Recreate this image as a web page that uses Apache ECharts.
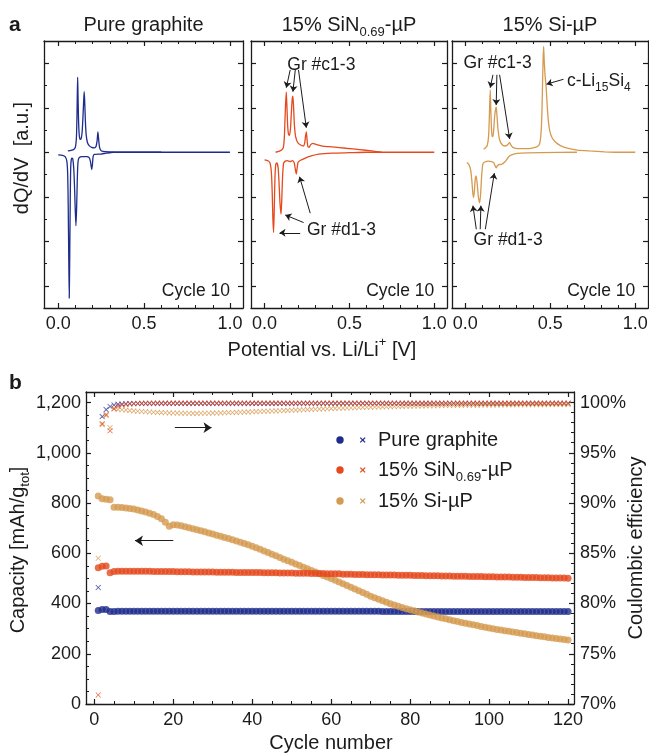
<!DOCTYPE html>
<html>
<head>
<meta charset="utf-8">
<script src="https://cdn.jsdelivr.net/npm/echarts@6/dist/echarts.min.js"></script>
<style>
  html, body { margin: 0; padding: 0; background: #ffffff; }
  #chart { width: 649px; height: 755px; }
</style>
</head>
<body>
<div id="chart"></div>
<script>
// ---------- panel a: differential capacity, cycle 10 (V vs Li/Li+, dQ/dV in a.u.) ----------
const graphiteCharge = [
  [0.056,0.03],[0.075,0.04],[0.090,0.06],[0.100,0.12],[0.106,0.35],[0.109,0.8],[0.111,1.3],[0.113,1.69],
  [0.115,1.3],[0.118,0.75],[0.122,0.4],[0.127,0.29],[0.133,0.3],[0.139,0.45],[0.144,0.8],[0.148,1.15],
  [0.151,1.36],[0.154,1.15],[0.158,0.7],[0.163,0.38],[0.170,0.22],[0.180,0.15],[0.195,0.11],[0.210,0.1],
  [0.220,0.13],[0.226,0.25],[0.231,0.46],[0.235,0.3],[0.240,0.12],[0.247,0.05],[0.260,0.02],[0.300,0.01],
  [0.400,0.0],[1.000,0.0]
];
const graphiteDischarge = [
  [0.000,-0.06],[0.025,-0.07],[0.040,-0.1],[0.050,-0.2],[0.055,-0.5],[0.058,-1.2],[0.061,-2.3],[0.064,-3.28],
  [0.067,-2.3],[0.070,-1.0],[0.073,-0.3],[0.078,-0.13],[0.084,-0.14],[0.090,-0.35],[0.095,-0.8],[0.099,-1.3],
  [0.103,-1.65],[0.107,-1.25],[0.111,-0.6],[0.115,-0.22],[0.122,-0.12],[0.140,-0.1],[0.165,-0.1],[0.180,-0.12],
  [0.187,-0.2],[0.191,-0.3],[0.195,-0.39],[0.199,-0.28],[0.203,-0.1],[0.210,-0.05],[0.250,-0.04],[0.280,-0.02],
  [0.320,0.0],[0.600,0.0]
];
const sinCharge = [
  [0.065,0.0],[0.085,0.02],[0.100,0.05],[0.110,0.1],[0.116,0.3],[0.120,0.7],[0.124,1.1],[0.128,1.35],
  [0.132,1.0],[0.136,0.6],[0.141,0.4],[0.147,0.38],[0.153,0.55],[0.158,0.9],[0.163,1.2],[0.167,1.26],
  [0.171,1.0],[0.176,0.6],[0.183,0.35],[0.195,0.22],[0.210,0.17],[0.228,0.14],[0.236,0.2],[0.241,0.35],
  [0.246,0.46],[0.250,0.3],[0.255,0.13],[0.262,0.11],[0.272,0.17],[0.283,0.2],[0.300,0.18],[0.340,0.14],
  [0.400,0.12],[0.480,0.09],[0.560,0.06],[0.630,0.03],[0.690,0.0]
];
const sinDischarge = [
  [0.000,-0.17],[0.020,-0.19],[0.032,-0.24],[0.040,-0.45],[0.045,-0.9],[0.049,-1.5],[0.053,-1.8],[0.057,-1.3],
  [0.061,-0.6],[0.066,-0.27],[0.072,-0.24],[0.080,-0.35],[0.086,-0.75],[0.091,-1.15],[0.097,-1.39],[0.101,-1.1],
  [0.106,-0.55],[0.112,-0.25],[0.122,-0.2],[0.135,-0.19],[0.150,-0.21],[0.165,-0.19],[0.175,-0.24],[0.181,-0.38],
  [0.187,-0.49],[0.192,-0.35],[0.198,-0.22],[0.212,-0.18],[0.240,-0.13],[0.275,-0.08],[0.320,-0.04],[0.400,-0.02],
  [0.500,-0.01],[0.600,0.0],[1.000,0.0]
];
const siCharge = [
  [0.108,0.07],[0.120,0.1],[0.130,0.16],[0.137,0.35],[0.141,0.7],[0.144,1.1],[0.147,1.4],[0.150,1.0],
  [0.154,0.55],[0.158,0.36],[0.163,0.35],[0.168,0.55],[0.174,0.85],[0.182,1.02],[0.187,0.8],[0.193,0.5],
  [0.202,0.28],[0.215,0.18],[0.232,0.14],[0.247,0.16],[0.256,0.2],[0.261,0.22],[0.267,0.17],[0.280,0.11],
  [0.310,0.08],[0.360,0.08],[0.400,0.1],[0.425,0.13],[0.438,0.2],[0.446,0.45],[0.451,0.9],[0.455,1.6],
  [0.458,2.1],[0.461,2.38],[0.464,2.1],[0.469,1.75],[0.476,1.45],[0.482,1.05],[0.489,0.7],[0.497,0.48],
  [0.510,0.33],[0.530,0.23],[0.560,0.15],[0.600,0.09],[0.660,0.05],[0.730,0.03],[0.820,0.01],[0.900,0.0],
  [1.000,0.0]
];
const siDischarge = [
  [0.010,-0.23],[0.022,-0.28],[0.032,-0.4],[0.039,-0.65],[0.044,-0.9],[0.049,-1.02],[0.054,-0.85],[0.059,-0.6],
  [0.064,-0.53],[0.070,-0.7],[0.077,-1.0],[0.085,-1.14],[0.091,-0.9],[0.097,-0.5],[0.104,-0.26],[0.115,-0.22],
  [0.135,-0.2],[0.155,-0.21],[0.168,-0.24],[0.176,-0.31],[0.182,-0.35],[0.188,-0.31],[0.198,-0.28],[0.215,-0.27],
  [0.232,-0.22],[0.248,-0.14],[0.262,-0.08],[0.285,-0.04],[0.330,-0.02],[0.450,-0.01],[0.657,0.0]
];

// peak labels: arrows as [fromV, fromY, toV, toY]
const sinArrows = [
  [0.151,1.85,0.128,1.45],[0.181,1.85,0.167,1.36],[0.200,1.85,0.246,0.55],
  [0.210,-1.81,0.088,-1.81],[0.230,-1.58,0.122,-1.41],[0.269,-1.37,0.206,-0.55]
];
const siArrows = [
  [0.163,1.74,0.147,1.45],[0.186,1.74,0.182,1.06],[0.202,1.74,0.261,0.30],
  [0.578,1.64,0.478,1.53],
  [0.065,-1.73,0.045,-1.20],[0.088,-1.73,0.092,-1.20],[0.118,-1.73,0.171,-0.47]
];
// note texts: [V, y, text]
const sinNotes = [[0.134,1.96,'Gr #c1-3'],[0.250,-1.74,'Gr #d1-3']];
const siNotes = [[-0.010,2.0,'Gr #c1-3'],[0.598,1.59,'c-Li{s|15}Si{s|4}'],[0.049,-1.97,'Gr #d1-3']];
const panelTitles = ['Pure graphite', '15% SiN{s|0.69}-\u00b5P', '15% Si-\u00b5P'];
const cycleNote = 'Cycle 10';

const xTicksA = [0, 0.5, 1];
const xMinorA = [0.1, 0.2, 0.3, 0.4, 0.6, 0.7, 0.8, 0.9];
const yTicksA = [-3, -2, -1, 0, 1, 2];
const yMinorA = [-2.5, -1.5, -0.5, 0.5, 1.5];

// ---------- panel b: capacity (circles) and Coulombic efficiency (crosses) per cycle ----------
const sampleNames = ['Pure graphite', '15% SiN{s|0.69}-\u00b5P', '15% Si-\u00b5P'];

const graphiteCapacity = [
  372,376,376,368,368,369,369,369,369,369,
  369,369,369,369,369,369,369,369,369,369,
  369,369,369,369,369,369,369,369,369,369,
  369,369,369,369,369,369,369,369,369,369,
  369,369,369,369,369,369,369,369,369,369,
  369,369,369,369,369,369,369,369,369,369,
  369,369,369,369,369,369,369,369,369,369,
  369,369,368,368,368,368,368,368,368,368,
  368,368,368,368,368,368,368,368,368,368,
  368,368,368,368,368,368,368,368,368,368,
  368,368,368,368,368,368,368,368,368,368,
  368,368,368,368,368,368,368,368,368,368
];
const sinCapacity = [
  542,548,549,522,527,528,528,528,528,528,
  528,528,528,528,527,527,527,527,527,527,
  526,526,526,526,525,525,525,525,525,525,
  524,524,524,524,524,523,523,523,523,523,
  523,523,522,522,522,522,521,521,521,521,
  520,520,520,520,519,519,519,519,518,518,
  518,518,517,517,517,516,516,516,515,515,
  515,515,514,514,514,514,513,513,513,513,
  512,512,512,511,511,511,511,510,510,510,
  509,509,509,509,508,508,508,508,507,507,
  507,506,506,506,506,505,505,505,504,504,
  504,504,503,503,503,502,502,502,502,501
];
const siCapacity = [
  828,817,815,813,783,783,782,780,778,776,
  772,768,764,759,754,746,737,724,708,714,
  713,710,706,702,698,694,690,686,681,677,
  672,668,663,659,654,649,644,639,634,628,
  622,616,609,603,596,590,583,576,570,564,
  557,551,544,538,531,525,518,512,506,500,
  493,486,479,472,465,458,451,444,437,429,
  423,417,411,405,399,394,389,384,379,375,
  371,366,362,358,354,350,346,342,339,335,
  331,328,324,321,318,315,312,309,306,303,
  300,297,295,292,290,287,285,282,280,277,
  275,272,270,268,265,263,261,259,257,255
];
const graphiteCE = [
  81.6,98.6,99.3,99.6,99.75,99.82,99.86,99.88,99.9,99.9,
  99.9,99.91,99.9,99.91,99.9,99.91,99.9,99.91,99.9,99.91,
  99.9,99.91,99.9,99.91,99.9,99.91,99.9,99.91,99.9,99.91,
  99.9,99.91,99.9,99.91,99.9,99.91,99.9,99.91,99.9,99.91,
  99.9,99.91,99.9,99.91,99.9,99.91,99.9,99.91,99.9,99.91,
  99.9,99.91,99.9,99.91,99.9,99.91,99.9,99.91,99.9,99.91,
  99.9,99.91,99.9,99.91,99.9,99.91,99.9,99.91,99.9,99.91,
  99.9,99.91,99.9,99.91,99.9,99.91,99.9,99.91,99.9,99.91,
  99.9,99.91,99.9,99.91,99.9,99.91,99.9,99.91,99.9,99.91,
  99.9,99.91,99.9,99.91,99.9,99.91,99.9,99.91,99.9,99.91,
  99.9,99.91,99.9,99.91,99.9,99.91,99.9,99.91,99.9,99.91,
  99.9,99.91,99.9,99.91,99.9,99.91,99.9,99.91,99.9,99.91
];
const sinCE = [
  70.9,97.9,98.8,97.2,99.4,99.62,99.75,99.82,99.86,99.88,
  99.9,99.92,99.93,99.94,99.94,99.95,99.94,99.95,99.94,99.95,
  99.94,99.95,99.94,99.95,99.94,99.95,99.94,99.95,99.94,99.95,
  99.94,99.95,99.94,99.95,99.94,99.95,99.94,99.95,99.94,99.95,
  99.94,99.95,99.94,99.95,99.94,99.95,99.94,99.95,99.94,99.95,
  99.94,99.95,99.94,99.95,99.94,99.95,99.94,99.95,99.94,99.95,
  99.94,99.95,99.94,99.95,99.94,99.95,99.94,99.95,99.94,99.95,
  99.94,99.95,99.94,99.95,99.94,99.95,99.94,99.95,99.94,99.95,
  99.94,99.95,99.94,99.95,99.94,99.95,99.94,99.95,99.94,99.95,
  99.94,99.95,99.94,99.95,99.94,99.95,99.94,99.95,99.94,99.95,
  99.94,99.95,99.94,99.95,99.94,99.95,99.94,99.95,99.94,99.95,
  99.94,99.95,99.94,99.95,99.94,99.95,99.94,99.95,99.94,99.95
];
const siCE = [
  84.5,97.8,98.7,97.5,99.35,99.3,99.28,99.25,99.2,99.17,
  99.14,99.11,99.08,99.06,99.04,99.02,99.0,98.98,98.97,98.96,
  98.95,98.94,98.93,98.93,98.92,98.92,98.93,98.93,98.94,98.95,
  98.96,98.97,98.98,99.0,99.01,99.02,99.04,99.05,99.07,99.08,
  99.1,99.11,99.13,99.14,99.16,99.17,99.19,99.2,99.22,99.23,
  99.25,99.27,99.28,99.3,99.32,99.33,99.35,99.37,99.38,99.4,
  99.42,99.43,99.45,99.46,99.48,99.49,99.5,99.52,99.53,99.54,
  99.55,99.56,99.57,99.58,99.59,99.6,99.61,99.62,99.63,99.64,
  99.65,99.66,99.66,99.67,99.68,99.68,99.69,99.7,99.7,99.71,
  99.71,99.72,99.72,99.73,99.73,99.74,99.74,99.75,99.75,99.75,
  99.76,99.76,99.76,99.77,99.77,99.77,99.78,99.78,99.78,99.78,
  99.79,99.79,99.79,99.79,99.8,99.8,99.8,99.8,99.8,99.8
];
// direction arrows [fromCycle, fromCap, toCycle, toCap]
const axisArrows = [[20.4,1100,29.7,1100],[20.0,650,10.3,650]];

const xTicksB = [0, 20, 40, 60, 80, 100, 120];
const xMinorB = [5,10,15,25,30,35,45,50,55,65,70,75,85,90,95,105,110,115];
const capTicks = [0, 200, 400, 600, 800, 1000, 1200];
const capMinor = [50,100,150,250,300,350,450,500,550,650,700,750,850,900,950,1050,1100,1150];
const ceTicks = [70, 75, 80, 85, 90, 95, 100];
const ceMinor = [71,72,73,74,76,77,78,79,81,82,83,84,86,87,88,89,91,92,93,94,96,97,98,99,101];

// ---------- layout and style ----------
const FONT = '"Liberation Sans", Arial, Helvetica, sans-serif';
const INK = '#1b1b1b';
const COLORS = ['#1e2c8c', '#e5491d', '#d59a4f'];

const gridsA = [
  { left: 44, top: 41, width: 199, height: 267 },
  { left: 251, top: 41, width: 196, height: 267 },
  { left: 452, top: 41, width: 196, height: 267 }
];
const xRangesA = [[-0.083, 1.076], [-0.08, 1.075], [-0.078, 1.075]];
const yRangeA = [-3.5, 2.5];
const gridB = { left: 86, top: 392, width: 488, height: 312 };
const xRangeB = [-2.1, 121.5];
const capRange = [0, 1242];
const ceRange = [70, 101.05];

const TICK_FONT = 18;

function axisPair(gridIndex, range, major, minor, position, label) {
  const common = {
    type: 'value', gridIndex: gridIndex, min: range[0], max: range[1], position: position,
    splitLine: { show: false }, silent: true
  };
  const main = Object.assign({}, common, {
    axisLine: { show: true, onZero: false, lineStyle: { color: INK, width: 1.3 } },
    axisTick: { show: true, inside: true, length: 5, customValues: major, lineStyle: { color: INK, width: 1.2 } },
    axisLabel: label
      ? Object.assign({ show: true, customValues: major, color: INK, fontFamily: FONT, fontSize: TICK_FONT }, label)
      : { show: false }
  });
  const sub = Object.assign({}, common, {
    axisLine: { show: false, onZero: false },
    axisTick: { show: true, inside: true, length: 3, customValues: minor, lineStyle: { color: INK, width: 1 } },
    axisLabel: { show: false }
  });
  return [main, sub];
}

const grids = [];
const xAxes = [];
const yAxes = [];
const series = [];

const dqdvPanels = [
  { charge: graphiteCharge, discharge: graphiteDischarge, arrows: [], notes: [] },
  { charge: sinCharge, discharge: sinDischarge, arrows: sinArrows, notes: sinNotes },
  { charge: siCharge, discharge: siDischarge, arrows: siArrows, notes: siNotes }
];

function arrowLines(list, size) {
  return {
    silent: true, animation: false,
    symbol: ['none', 'arrow'], symbolSize: size,
    label: { show: false },
    emphasis: { disabled: true },
    itemStyle: { color: INK },
    lineStyle: { color: INK, width: 1, type: 'solid', opacity: 1 },
    data: list.map(a => [{ coord: [a[0], a[1]] }, { coord: [a[2], a[3]] }])
  };
}

dqdvPanels.forEach((p, i) => {
  grids.push(Object.assign({ containLabel: false, outerBoundsMode: 'none' }, gridsA[i]));
  xAxes.push(...axisPair(i, xRangesA[i], xTicksA, xMinorA, 'bottom',
    { margin: 7, formatter: v => v.toFixed(1) }));
  xAxes.push(...axisPair(i, xRangesA[i], xTicksA, xMinorA, 'top', null));
  yAxes.push(...axisPair(i, yRangeA, yTicksA, yMinorA, 'left', null));
  yAxes.push(...axisPair(i, yRangeA, yTicksA, yMinorA, 'right', null));
  [p.charge, p.discharge].forEach((d, k) => {
    const s = {
      type: 'line', xAxisIndex: 4 * i, yAxisIndex: 4 * i, data: d,
      showSymbol: false, symbol: 'none', smooth: 0.2,
      lineStyle: { color: COLORS[i], width: 1.3 }, itemStyle: { color: COLORS[i] }, z: 3
    };
    if (k === 0 && p.arrows.length) s.markLine = arrowLines(p.arrows, 6);
    series.push(s);
  });
});

// panel b axes: indices 12..15
grids.push(Object.assign({ containLabel: false, outerBoundsMode: 'none' }, gridB));
xAxes.push(...axisPair(3, xRangeB, xTicksB, xMinorB, 'bottom', { margin: 7 }));
xAxes.push(...axisPair(3, xRangeB, xTicksB, xMinorB, 'top', null));
yAxes.push(...axisPair(3, capRange, capTicks, capMinor, 'left', {
  margin: 5,
  formatter: v => v >= 1000 ? Math.floor(v / 1000) + ',' + String(v % 1000).padStart(3, '0') : String(v)
}));
yAxes.push(...axisPair(3, ceRange, ceTicks, ceMinor, 'right', { margin: 6, formatter: v => v + '%' }));

const cycles = graphiteCapacity.map((_, i) => i + 1);
const capacitySets = [graphiteCapacity, sinCapacity, siCapacity];
const ceSets = [graphiteCE, sinCE, siCE];
const CROSS = 'path://M1,0 L5,4 L9,0 L10,1 L6,5 L10,9 L9,10 L5,6 L1,10 L0,9 L4,5 L0,1 Z';

// capacity circles
[0, 1, 2].forEach(k => {
  const s = {
    type: 'scatter', name: 'cap' + k, xAxisIndex: 12, yAxisIndex: 12,
    data: cycles.map((c, i) => [c, capacitySets[k][i]]),
    symbol: 'circle', symbolSize: 7, itemStyle: { color: COLORS[k] }, z: 2 + (k === 2 ? 0 : k)
  };
  if (k === 0) s.markLine = arrowLines(axisArrows, 8);
  series.push(s);
});
// Coulombic efficiency crosses
[0, 2, 1].forEach(k => {
  series.push({
    type: 'scatter', name: 'ce' + k, xAxisIndex: 12, yAxisIndex: 14,
    data: cycles.map((c, i) => [c, ceSets[k][i]]),
    symbol: CROSS, symbolSize: 5.5, itemStyle: { color: COLORS[k] }, z: 4
  });
});

const chart = echarts.init(document.getElementById('chart'), null, { renderer: 'canvas' });
chart.setOption({
  animation: false,
  backgroundColor: '#ffffff',
  grid: grids,
  xAxis: xAxes,
  yAxis: yAxes,
  series: series
});

// ---------- texts ----------
function rich(size, color) {
  return {
    s: { fontSize: Math.round(size * 0.66), lineHeight: Math.round(size * 1.4), verticalAlign: 'bottom', fontFamily: FONT, fill: color },
    p: { fontSize: Math.round(size * 0.66), lineHeight: Math.round(size * 1.4), verticalAlign: 'top', fontFamily: FONT, fill: color }
  };
}
function label(x, y, text, size, opts) {
  opts = opts || {};
  const color = opts.color || INK;
  return {
    type: 'text', x: x, y: y, rotation: opts.rotation || 0, silent: true, z: 100,
    style: {
      text: text, fontFamily: FONT, fontSize: size, fontWeight: opts.bold ? 'bold' : 'normal',
      fill: color, align: opts.align || 'center', verticalAlign: 'middle',
      lineHeight: Math.round(size * 1.4), rich: rich(size, color)
    }
  };
}

const graphics = [];
graphics.push(label(9, 25, 'a', 21, { bold: true, align: 'left' }));
graphics.push(label(9, 383, 'b', 21, { bold: true, align: 'left' }));
gridsA.forEach((g, i) => {
  graphics.push(label(g.left + g.width / 2, 25, panelTitles[i], 20));
  const c = chart.convertToPixel({ xAxisIndex: 4 * i, yAxisIndex: 4 * i }, [1.0, -3.13]);
  graphics.push(label(c[0], c[1], cycleNote, 17.5, { align: 'right' }));
  dqdvPanels[i].notes.forEach(n => {
    const q = chart.convertToPixel({ xAxisIndex: 4 * i, yAxisIndex: 4 * i }, [n[0], n[1]]);
    graphics.push(label(q[0], q[1], n[2], 17.5, { align: 'left' }));
  });
});
graphics.push(label(22, 158, 'dQ/dV  [a.u.]', 20, { rotation: Math.PI / 2 }));
graphics.push(label(322, 350, 'Potential vs. Li/Li{p|+} [V]', 20));
graphics.push(label(18, 550, 'Capacity [mAh/g{s|tot}]', 20, { rotation: Math.PI / 2 }));
graphics.push(label(636, 548, 'Coulombic efficiency', 20, { rotation: Math.PI / 2 }));
graphics.push(label(331, 743, 'Cycle number', 20));

// legend: circle + cross + name
const legendRows = [440, 470, 501];
sampleNames.forEach((name, k) => {
  const y = legendRows[k];
  graphics.push({ type: 'circle', silent: true, z: 100, shape: { cx: 340, cy: y, r: 3.7 }, style: { fill: COLORS[k] } });
  graphics.push({ type: 'line', silent: true, z: 100, shape: { x1: 360.3, y1: y - 2.4, x2: 365.1, y2: y + 2.4 }, style: { stroke: COLORS[k], lineWidth: 1.3 } });
  graphics.push({ type: 'line', silent: true, z: 100, shape: { x1: 360.3, y1: y + 2.4, x2: 365.1, y2: y - 2.4 }, style: { stroke: COLORS[k], lineWidth: 1.3 } });
  graphics.push(label(378, y, name, 20, { align: 'left' }));
});

chart.setOption({ graphic: { elements: graphics } });
</script>
</body>
</html>
